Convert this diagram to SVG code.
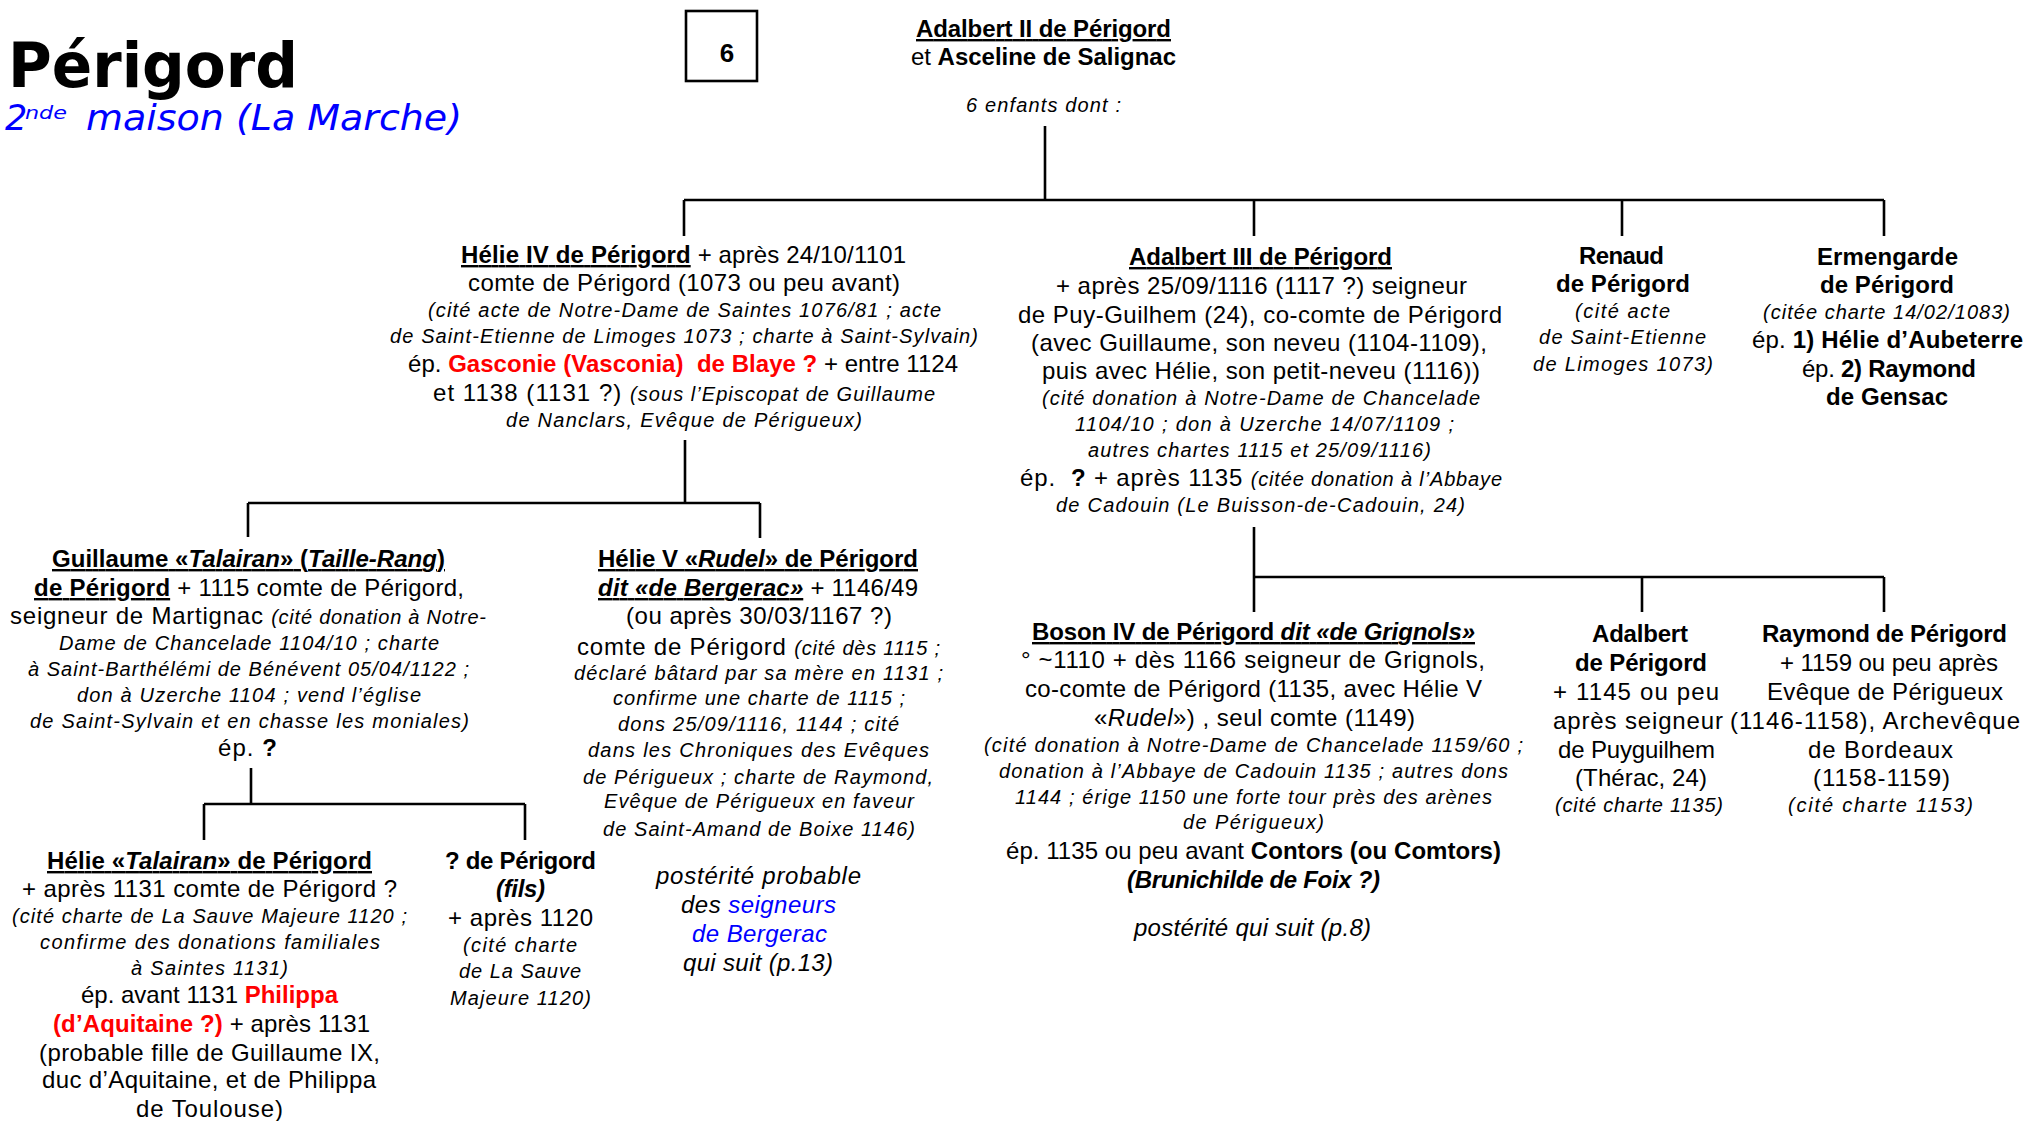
<svg xmlns="http://www.w3.org/2000/svg" width="2025" height="1121" viewBox="0 0 2025 1121">
<style>
text { font-family: "Liberation Sans", Arial, sans-serif; font-size: 24px; fill: #000; }
.i { font-style: italic; font-size: 20px; }
.i24 { font-style: italic; font-size: 24px; }
.it { font-style: italic; }
.b { font-weight: bold; }
.u { text-decoration: underline; }
.red { fill: #FF0000; }
.blue { fill: #0000FF; }
.title { font-family: "DejaVu Sans", Verdana, sans-serif; font-weight: bold; font-size: 62px; }
.sub { font-family: "DejaVu Sans", Verdana, sans-serif; font-style: italic; font-size: 35px; fill: #0000FF; }
.conn path { stroke: #000; stroke-width: 2.6; fill: none; }
</style>
<rect width="2025" height="1121" fill="#fff"/>

<g id="header">
  <text class="title" x="8" y="87" textLength="290" lengthAdjust="spacingAndGlyphs">Périgord</text>
  <text class="sub" x="5" y="130">2</text>
  <text class="sub" x="25" y="119" style="font-size:18px" textLength="42" lengthAdjust="spacingAndGlyphs">nde</text>
  <text class="sub" x="86" y="130" textLength="376" lengthAdjust="spacingAndGlyphs">maison (La Marche)</text>
  <rect x="686" y="11" width="71" height="70" fill="none" stroke="#000" stroke-width="2.6"/>
  <text class="b" x="727" y="62" text-anchor="middle" style="font-size:26px">6</text>
</g>

<g id="n-adalbert2">
  <text class="b u" x="916" y="37" textLength="255">Adalbert II de Périgord</text>
  <text x="911" y="65" textLength="265">et <tspan class="b">Asceline de Salignac</tspan></text>
  <text class="i" x="966" y="112" textLength="155">6 enfants dont :</text>
</g>

<g id="connectors" class="conn">
  <path d="M1045 126 V200 M684 200 H1884 M684 200 V236 M1254 200 V236 M1622 200 V236 M1884 200 V236"/>
  <path d="M685 440 V503 M248 503 H760 M248 503 V537 M760 503 V538"/>
  <path d="M251 768 V804 M204 804 H525 M204 804 V840 M525 804 V840"/>
  <path d="M1254 527 V612 M1254 577 H1884 M1642 577 V612 M1884 577 V612"/>
</g>

<g id="n-helie4">
  <text x="461" y="263" textLength="445"><tspan class="b u">Hélie IV de Périgord</tspan> + après 24/10/1101</text>
  <text x="468" y="291" textLength="432">comte de Périgord (1073 ou peu avant)</text>
  <text class="i" x="428" y="317" textLength="513">(cité acte de Notre-Dame de Saintes 1076/81 ; acte</text>
  <text class="i" x="390" y="343" textLength="588">de Saint-Etienne de Limoges 1073 ; charte à Saint-Sylvain)</text>
  <text x="408" y="372" textLength="550">ép. <tspan class="b red">Gasconie (Vasconia)&#160; de Blaye ?</tspan> + entre 1124</text>
  <text x="433" y="401" textLength="502">et 1138 (1131 ?) <tspan class="i">(sous l’Episcopat de Guillaume</tspan></text>
  <text class="i" x="506" y="427" textLength="356">de Nanclars, Evêque de Périgueux)</text>
</g>

<g id="n-adalbert3">
  <text class="b u" x="1129" y="265" textLength="263">Adalbert III de Périgord</text>
  <text x="1056" y="294" textLength="411">+ après 25/09/1116 (1117 ?) seigneur</text>
  <text x="1018" y="323" textLength="484">de Puy-Guilhem (24), co-comte de Périgord</text>
  <text x="1031" y="351" textLength="456">(avec Guillaume, son neveu (1104-1109),</text>
  <text x="1042" y="379" textLength="438">puis avec Hélie, son petit-neveu (1116))</text>
  <text class="i" x="1042" y="405" textLength="438">(cité donation à Notre-Dame de Chancelade</text>
  <text class="i" x="1075" y="431" textLength="379">1104/10 ; don à Uzerche 14/07/1109 ;</text>
  <text class="i" x="1088" y="457" textLength="343">autres chartes 1115 et 25/09/1116)</text>
  <text x="1020" y="486" textLength="482">ép.&#160; <tspan class="b">?</tspan> + après 1135 <tspan class="i">(citée donation à l’Abbaye</tspan></text>
  <text class="i" x="1056" y="512" textLength="409">de Cadouin (Le Buisson-de-Cadouin, 24)</text>
</g>

<g id="n-renaud">
  <text class="b" x="1579" y="264" textLength="85">Renaud</text>
  <text class="b" x="1556" y="292" textLength="134">de Périgord</text>
  <text class="i" x="1575" y="318" textLength="95">(cité acte</text>
  <text class="i" x="1539" y="344" textLength="167">de Saint-Etienne</text>
  <text class="i" x="1533" y="371" textLength="180">de Limoges 1073)</text>
</g>

<g id="n-ermengarde">
  <text class="b" x="1817" y="265" textLength="141">Ermengarde</text>
  <text class="b" x="1820" y="293" textLength="134">de Périgord</text>
  <text class="i" x="1763" y="319" textLength="247">(citée charte 14/02/1083)</text>
  <text x="1752" y="348" textLength="271">ép. <tspan class="b">1) Hélie d’Aubeterre</tspan></text>
  <text x="1802" y="377" textLength="174">ép. <tspan class="b">2) Raymond</tspan></text>
  <text class="b" x="1826" y="405" textLength="122">de Gensac</text>
</g>

<g id="n-guillaume">
  <text class="b u" x="52" y="567" textLength="393">Guillaume «<tspan class="it">Talairan</tspan>» (<tspan class="it">Taille-Rang</tspan>)</text>
  <text x="34" y="596" textLength="430"><tspan class="b u">de Périgord</tspan> + 1115 comte de Périgord,</text>
  <text x="10" y="624" textLength="476">seigneur de Martignac <tspan class="i">(cité donation à Notre-</tspan></text>
  <text class="i" x="59" y="650" textLength="380">Dame de Chancelade 1104/10 ; charte</text>
  <text class="i" x="28" y="676" textLength="441">à Saint-Barthélémi de Bénévent 05/04/1122 ;</text>
  <text class="i" x="77" y="702" textLength="344">don à Uzerche 1104 ; vend l’église</text>
  <text class="i" x="30" y="728" textLength="439">de Saint-Sylvain et en chasse les moniales)</text>
  <text x="218" y="756" textLength="59">ép. <tspan class="b">?</tspan></text>
</g>

<g id="n-helie5">
  <text class="b u" x="598" y="567" textLength="320">Hélie V «<tspan class="it">Rudel</tspan>» de Périgord</text>
  <text x="598" y="596" textLength="320"><tspan class="b it u">dit «de Bergerac»</tspan> + 1146/49</text>
  <text x="626" y="624" textLength="266">(ou après 30/03/1167 ?)</text>
  <text x="577" y="655" textLength="363">comte de Périgord <tspan class="i">(cité dès 1115 ;</tspan></text>
  <text class="i" x="574" y="680" textLength="369">déclaré bâtard par sa mère en 1131 ;</text>
  <text class="i" x="613" y="705" textLength="292">confirme une charte de 1115 ;</text>
  <text class="i" x="618" y="731" textLength="281">dons 25/09/1116, 1144  ; cité</text>
  <text class="i" x="588" y="757" textLength="341">dans les Chroniques des Evêques</text>
  <text class="i" x="583" y="784" textLength="350">de Périgueux ; charte de Raymond,</text>
  <text class="i" x="604" y="808" textLength="310">Evêque de Périgueux en faveur</text>
  <text class="i" x="603" y="836" textLength="312">de Saint-Amand de Boixe 1146)</text>
</g>

<g id="n-helie5-posterite">
  <text class="i24" x="656" y="884" textLength="205">postérité probable</text>
  <text class="i24" x="681" y="913" textLength="155">des <tspan class="blue">seigneurs</tspan></text>
  <text class="i24 blue" x="692" y="942" textLength="135">de Bergerac</text>
  <text class="i24" x="683" y="971" textLength="150">qui suit (p.13)</text>
</g>

<g id="n-boson">
  <text class="b u" x="1032" y="640" textLength="443">Boson IV de Périgord <tspan class="it">dit «de Grignols»</tspan></text>
  <text x="1021" y="668" textLength="464">° ~1110 + dès 1166 seigneur de Grignols,</text>
  <text x="1025" y="697" textLength="457">co-comte de Périgord (1135, avec Hélie V</text>
  <text x="1094" y="726" textLength="321">«<tspan class="it">Rudel</tspan>») , seul comte (1149)</text>
  <text class="i" x="984" y="752" textLength="539">(cité donation à Notre-Dame de Chancelade 1159/60 ;</text>
  <text class="i" x="999" y="778" textLength="509">donation à l’Abbaye de Cadouin 1135 ; autres dons</text>
  <text class="i" x="1015" y="804" textLength="477">1144 ; érige 1150 une forte tour près des arènes</text>
  <text class="i" x="1183" y="829" textLength="141">de Périgueux)</text>
  <text x="1006" y="859" textLength="495">ép. 1135 ou peu avant <tspan class="b">Contors (ou Comtors)</tspan></text>
  <text class="b it" x="1127" y="888" textLength="253">(Brunichilde de Foix ?)</text>
  <text class="i24" x="1134" y="936" textLength="237">postérité qui suit (p.8)</text>
</g>

<g id="n-adalbert">
  <text class="b" x="1592" y="642" textLength="96">Adalbert</text>
  <text class="b" x="1575" y="671" textLength="132">de Périgord</text>
  <text x="1553" y="700" textLength="166">+ 1145 ou peu</text>
  <text x="1553" y="729" textLength="170">après seigneur</text>
  <text x="1558" y="758" textLength="157">de Puyguilhem</text>
  <text x="1575" y="786" textLength="132">(Thérac, 24)</text>
  <text class="i" x="1555" y="812" textLength="168">(cité charte 1135)</text>
</g>

<g id="n-raymond">
  <text class="b" x="1762" y="642" textLength="245">Raymond de Périgord</text>
  <text x="1780" y="671" textLength="218">+ 1159 ou peu après</text>
  <text x="1767" y="700" textLength="236">Evêque de Périgueux</text>
  <text x="1730" y="729" textLength="290">(1146-1158), Archevêque</text>
  <text x="1808" y="758" textLength="145">de Bordeaux</text>
  <text x="1813" y="786" textLength="137">(1158-1159)</text>
  <text class="i" x="1788" y="812" textLength="185">(cité charte 1153)</text>
</g>

<g id="n-helie-talairan">
  <text class="b u" x="47" y="869" textLength="325">Hélie «<tspan class="it">Talairan</tspan>» de Périgord</text>
  <text x="22" y="897" textLength="375">+ après 1131 comte de Périgord ?</text>
  <text class="i" x="12" y="923" textLength="395">(cité charte de La Sauve Majeure 1120 ;</text>
  <text class="i" x="40" y="949" textLength="340">confirme des donations familiales</text>
  <text class="i" x="131" y="975" textLength="157">à Saintes 1131)</text>
  <text x="81" y="1003" textLength="257">ép. avant 1131 <tspan class="b red">Philippa</tspan></text>
  <text x="53" y="1032" textLength="317"><tspan class="b red">(d’Aquitaine ?)</tspan> + après 1131</text>
  <text x="39" y="1061" textLength="341">(probable fille de Guillaume IX,</text>
  <text x="42" y="1088" textLength="334">duc d’Aquitaine, et de Philippa</text>
  <text x="136" y="1117" textLength="147">de Toulouse)</text>
</g>

<g id="n-fils">
  <text class="b" x="445" y="869" textLength="151">? de Périgord</text>
  <text class="b it" x="496" y="897" textLength="49">(fils)</text>
  <text x="448" y="926" textLength="145">+ après 1120</text>
  <text class="i" x="463" y="952" textLength="114">(cité charte</text>
  <text class="i" x="459" y="978" textLength="122">de La Sauve</text>
  <text class="i" x="450" y="1005" textLength="141">Majeure 1120)</text>
</g>
</svg>
